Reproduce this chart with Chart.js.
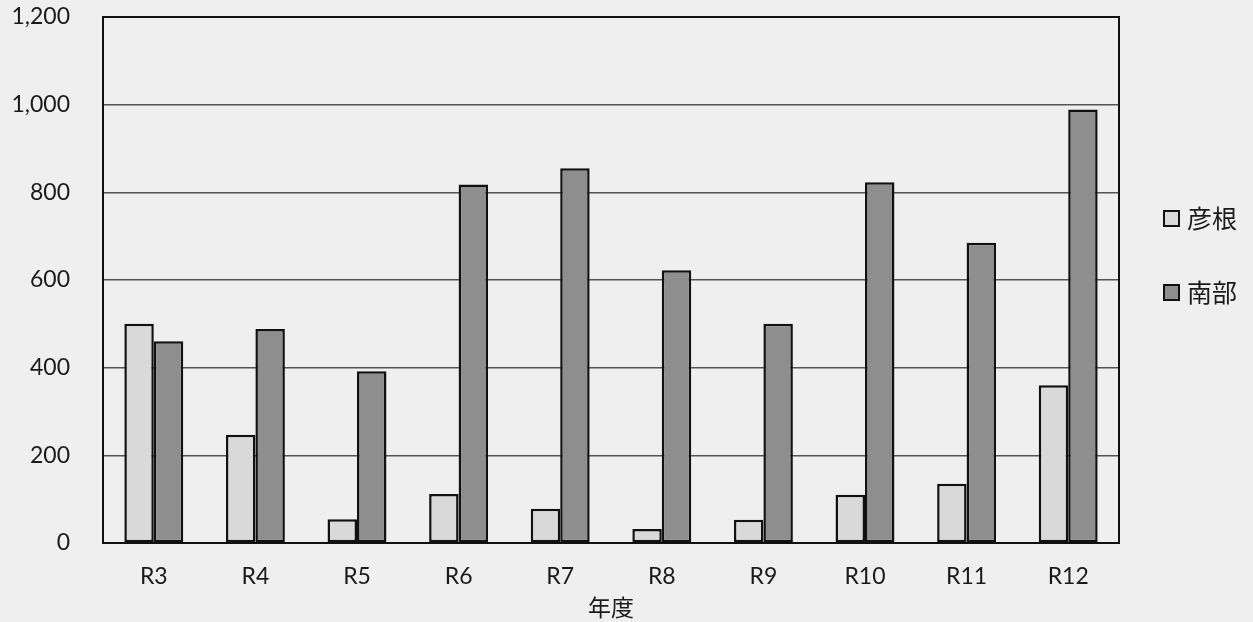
<!DOCTYPE html>
<html>
<head>
<meta charset="utf-8">
<script src="https://cdn.jsdelivr.net/npm/chart.js@4/dist/chart.umd.min.js"></script>
<style>
  html, body { margin: 0; padding: 0; background: #efefef; }
  #wrap { position: relative; width: 1253px; height: 622px; }
</style>
</head>
<body>
<div id="wrap"><canvas id="c" width="1253" height="622"></canvas></div>
<script>
const categories = ['R3', 'R4', 'R5', 'R6', 'R7', 'R8', 'R9', 'R10', 'R11', 'R12'];
const seriesNames = ['彦根', '南部'];
const hikone = [500, 247, 54, 112, 78, 32, 53, 110, 135, 360];
const nanbu = [460, 488, 392, 818, 855, 622, 500, 823, 685, 989];
const yTicks = [0, 200, 400, 600, 800, 1000, 1200];
const xTitle = '年度';

const FONT = "Lato, 'Noto Sans CJK JP', sans-serif";
const JFONT = "'Noto Sans CJK JP', Lato, sans-serif";

const frame = {
  id: 'frame',
  afterDatasetsDraw(chart) {
    const { ctx, chartArea: a } = chart;
    ctx.save();
    ctx.strokeStyle = '#111';
    ctx.lineWidth = 2;
    ctx.strokeRect(a.left, a.top, a.right - a.left, a.bottom - a.top);
    ctx.restore();
  }
};

const legendPlug = {
  id: 'legendPlug',
  afterDraw(chart) {
    const { ctx } = chart;
    const ys = [218, 292];
    ctx.save();
    chart.data.datasets.forEach((ds, i) => {
      const y = ys[i];
      ctx.fillStyle = ds.backgroundColor;
      ctx.fillRect(1164, y - 7, 15, 15);
      ctx.strokeStyle = '#111';
      ctx.lineWidth = 2;
      ctx.strokeRect(1164, y - 7, 15, 15);
      ctx.fillStyle = '#1a1a1a';
      ctx.font = "25px " + JFONT;
      ctx.textBaseline = 'middle';
      ctx.textAlign = 'left';
      ctx.fillText(ds.label, 1187, y);
    });
    ctx.restore();
  }
};

new Chart(document.getElementById('c'), {
  type: 'bar',
  data: {
    labels: categories,
    datasets: [
      { label: seriesNames[0], data: hikone, backgroundColor: '#d9d9d9', borderColor: '#111', borderWidth: 2.5, borderSkipped: false },
      { label: seriesNames[1], data: nanbu, backgroundColor: '#8e8e8e', borderColor: '#111', borderWidth: 2.5, borderSkipped: false }
    ]
  },
  options: {
    responsive: false,
    animation: false,
    layout: { padding: { left: 0, right: 134, top: 17, bottom: 1 } },
    datasets: { bar: { categoryPercentage: 0.58, barPercentage: 1.0 } },
    plugins: {
      legend: { display: false },
      tooltip: { enabled: false }
    },
    scales: {
      x: {
        afterFit(scale) { scale.height = 78; },
        grid: { display: false, drawTicks: false },
        border: { display: true, color: '#111', width: 2 },
        ticks: { color: '#1a1a1a', font: { family: FONT, size: 23 }, padding: 20 },
        title: { display: true, text: xTitle, color: '#1a1a1a', font: { family: JFONT, size: 23 }, padding: { top: 3, bottom: 0 } }
      },
      y: {
        min: 0, max: 1200,
        afterBuildTicks(scale) { scale.ticks = yTicks.map(v => ({ value: v })); },
        afterFit(scale) { scale.width = 103; },
        grid: { color: '#555', lineWidth: 1.5, drawTicks: true, tickLength: 30, tickColor: 'rgba(0,0,0,0)' },
        border: { display: true, color: '#111', width: 2 },
        ticks: {
          color: '#1a1a1a', font: { family: FONT, size: 23 }, padding: 3,
          callback: v => v.toLocaleString('en-US')
        }
      }
    }
  },
  plugins: [frame, legendPlug]
});
</script>
</body>
</html>
